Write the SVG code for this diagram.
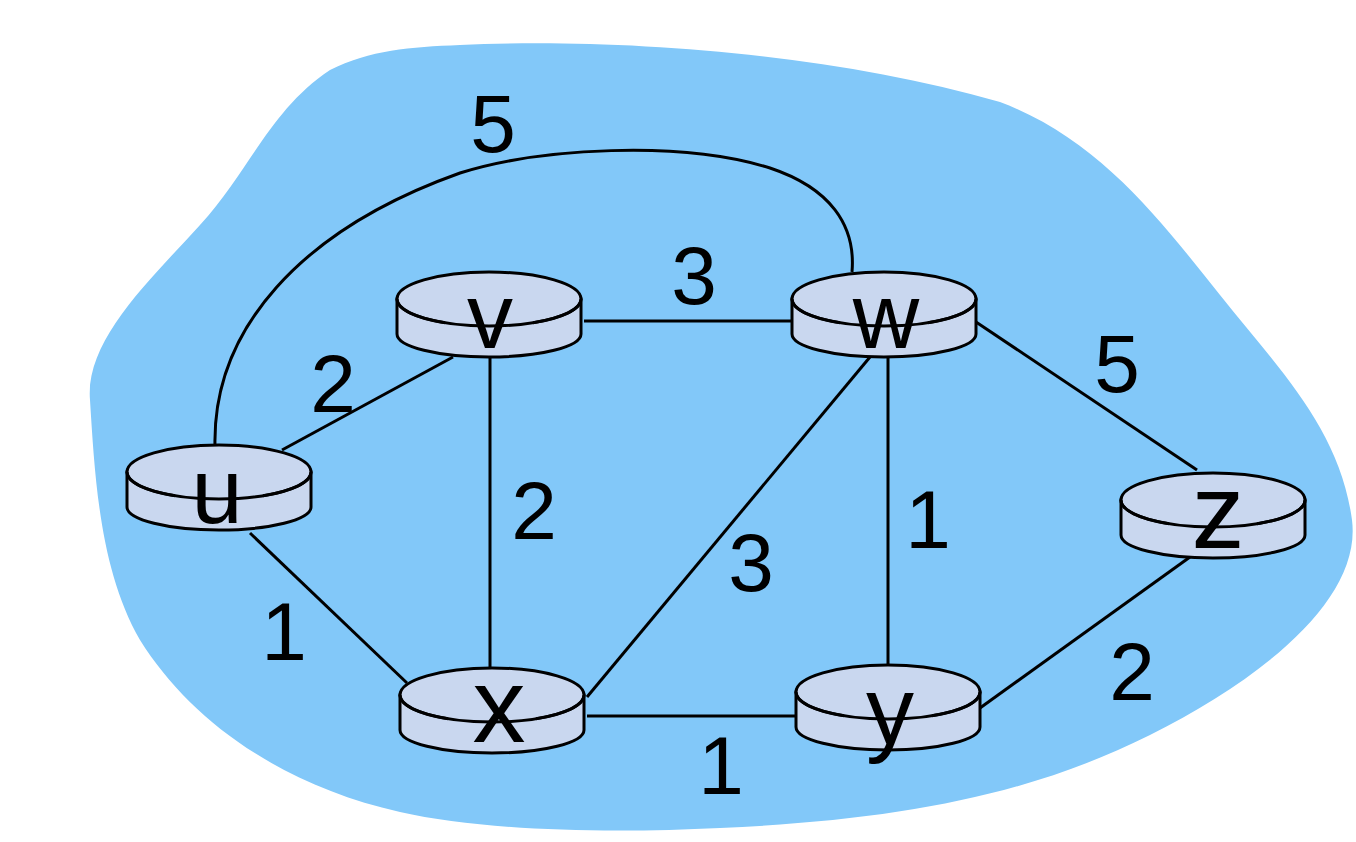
<svg xmlns="http://www.w3.org/2000/svg" width="1356" height="842" viewBox="0 0 1356 842">
<style>
.edge{fill:none;stroke:#000;stroke-width:3}
.body{fill:#C9D7EF;stroke:#000;stroke-width:3}
.arc{fill:none;stroke:#000;stroke-width:3}
.lbl{font-family:"Liberation Sans",Arial,sans-serif;font-size:82px;fill:#000;text-anchor:middle}
.name{font-family:"Liberation Sans",Arial,sans-serif;font-size:92px;fill:#000;text-anchor:middle}
</style>
<defs>
<g id="router">
<path class="body" d="M-92,0 L-92,35 A92,23 0 0 0 92,35 L92,0 Z"/>
<ellipse class="body" cx="0" cy="0" rx="92" ry="27"/>
<path class="arc" d="M-92,0 A92,27 0 0 0 -44,23.7 M44,23.7 A92,27 0 0 0 92,0"/>
</g>
</defs>
<rect width="1356" height="842" fill="#fff"/>
<path id="cloud" fill="#82C8F9" d="M460,45 C600,38 820,50 1000,102 C1100,140 1160,220 1220,295 C1280,370 1340,430 1352,520 C1362,600 1260,680 1150,735 C1030,795 900,820 720,828 C600,834 480,830 400,812 C280,785 190,720 140,640 C100,570 95,480 90,400 C85,340 150,280 200,225 C250,170 270,110 330,70 C370,50 410,47 460,45 Z"/>
<g id="connectors">
<path class="edge" d="M215,447 C212,330 300,230 460,173 C540,148 680,140 770,168 C830,188 856,225 852,272"/>
<line class="edge" x1="282" y1="450" x2="453" y2="357"/>
<line class="edge" x1="250" y1="533" x2="407" y2="683"/>
<line class="edge" x1="490" y1="357" x2="490" y2="670"/>
<line class="edge" x1="584" y1="321" x2="794" y2="321"/>
<line class="edge" x1="870" y1="357" x2="587" y2="697"/>
<line class="edge" x1="888" y1="357" x2="888" y2="665"/>
<line class="edge" x1="973" y1="320" x2="1197" y2="470"/>
<line class="edge" x1="587" y1="716" x2="796" y2="716"/>
<line class="edge" x1="980" y1="708" x2="1190" y2="557"/>
</g>
<g id="labels">
<text class="lbl" x="493" y="152">5</text>
<text class="lbl" x="694" y="304">3</text>
<text class="lbl" x="333" y="412">2</text>
<text class="lbl" x="534" y="539">2</text>
<text class="lbl" x="751" y="591">3</text>
<text class="lbl" x="928" y="548">1</text>
<text class="lbl" x="1117" y="392">5</text>
<text class="lbl" x="284" y="660">1</text>
<text class="lbl" x="1132" y="700">2</text>
<text class="lbl" x="721" y="794">1</text>
</g>
<g id="node-u"><use href="#router" x="219" y="472"/><text class="name" x="217" y="523">u</text></g>
<g id="node-v"><use href="#router" x="489" y="299"/><text class="name" x="490" y="348">v</text></g>
<g id="node-w"><use href="#router" x="884" y="299"/><text class="name" x="886" y="348">w</text></g>
<g id="node-z"><use href="#router" x="1213" y="500"/><text class="name" x="1218" y="548" style="font-size:106px">z</text></g>
<g id="node-x"><use href="#router" x="492" y="695"/><text class="name" x="499" y="742" style="font-size:106px">x</text></g>
<g id="node-y"><use href="#router" x="888" y="692"/><text class="name" x="890" y="744" style="font-size:96px">y</text></g>
</svg>
